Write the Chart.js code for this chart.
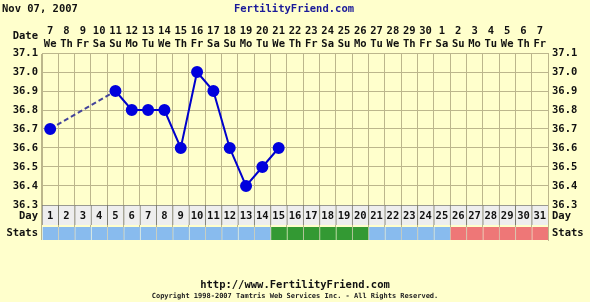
<!DOCTYPE html>
<html>
<head>
<meta charset="utf-8">
<script src="https://cdn.jsdelivr.net/npm/chart.js@4"></script>
<style>
html, body { margin: 0; padding: 0; background: #ffffcc; }
#wrap { position: relative; width: 590px; height: 302px; font-family: "DejaVu Sans Mono", monospace; font-weight: bold; }
#chart { position: absolute; left: 0; top: 0; }
.t { position: absolute; white-space: nowrap; }
</style>
</head>
<body>
<div id="wrap">
  <canvas id="chart" width="590" height="302"></canvas>
  <div class="t" style="left:2px;top:2px;font-size:10.5px;color:#111;">Nov 07, 2007</div>
  <div class="t" style="left:0;width:588px;text-align:center;top:2px;font-size:10.5px;color:#1a1a99;">FertilityFriend.com</div>
  <div class="t" style="left:0;width:590px;text-align:center;top:278px;font-size:10.5px;color:#111;">http://www.FertilityFriend.com</div>
  <div class="t" style="left:0;width:590px;text-align:center;top:292px;font-size:7px;color:#222;">Copyright 1998-2007 Tamtris Web Services Inc. - All Rights Reserved.</div>
</div>
<script>
// donnees du cycle
const dates = ['7','8','9','10','11','12','13','14','15','16','17','18','19','20','21','22','23','24','25','26','27','28','29','30','1','2','3','4','5','6','7'];
const weekdays = ['We','Th','Fr','Sa','Su','Mo','Tu','We','Th','Fr','Sa','Su','Mo','Tu','We','Th','Fr','Sa','Su','Mo','Tu','We','Th','Fr','Sa','Su','Mo','Tu','We','Th','Fr'];
const cycleDays = ['1','2','3','4','5','6','7','8','9','10','11','12','13','14','15','16','17','18','19','20','21','22','23','24','25','26','27','28','29','30','31'];
const temps = [36.7, null, null, null, 36.9, 36.8, 36.8, 36.8, 36.6, 37.0, 36.9, 36.6, 36.4, 36.5, 36.6,
               null, null, null, null, null, null, null, null, null, null, null, null, null, null, null, null];
const stats = ['b','b','b','b','b','b','b','b','b','b','b','b','b','b','g','g','g','g','g','g','b','b','b','b','b','p','p','p','p','p','p'];
const tempTicks = [37.1, 37.0, 36.9, 36.8, 36.7, 36.6, 36.5, 36.4, 36.3];

const statColors = { b: '#88bbee', g: '#339933', p: '#ee7777' };
const gridColor = '#bcb68c';
const txtColor = '#111';
const font = { family: 'DejaVu Sans Mono', size: 10.5, weight: 'bold', lineHeight: 1.25 };

// un trou dans les donnees -> trait en pointilles
const isGap = c => temps[c.p0DataIndex] === null;

// textes autour de la zone (Date, Day, Stats, numeros de jour)
const rowLabels = {
  id: 'rowLabels',
  afterDraw(chart) {
    const ctx = chart.ctx;
    const x = chart.scales.x;
    const yDay = chart.scales.yDay;
    const yStats = chart.scales.yStats;
    const area = chart.chartArea;
    ctx.save();
    ctx.font = 'bold 10.5px "DejaVu Sans Mono"';
    ctx.fillStyle = txtColor;
    ctx.textBaseline = 'middle';
    const dayY = (yDay.top + yDay.bottom) / 2 + 1;
    const statY = yStats.getPixelForValue(6.5);
    ctx.textAlign = 'center';
    cycleDays.forEach((d, i) => ctx.fillText(d, x.getPixelForValue(i), dayY));
    ctx.textAlign = 'right';
    ctx.fillText('Date', 38, 36);
    ctx.fillText('Day', 38, dayY);
    ctx.fillText('Stats', 38, statY);
    ctx.textAlign = 'left';
    ctx.fillText('Day', area.right + 4, dayY);
    ctx.fillText('Stats', area.right + 4, statY);
    ctx.restore();
  }
};

new Chart(document.getElementById('chart'), {
  type: 'line',
  data: {
    labels: dates.map((d, i) => [d, weekdays[i]]),
    datasets: [
      {
        type: 'line',
        data: temps,
        yAxisID: 'y',
        order: 0,
        spanGaps: true,
        borderColor: '#0000cc',
        borderWidth: 2,
        pointRadius: 5,
        pointBackgroundColor: '#0000dd',
        pointBorderColor: '#0000dd',
        segment: {
          borderDash: c => (isGap(c) ? [5, 3] : undefined),
          borderColor: c => (isGap(c) ? '#44449a' : undefined)
        }
      },
      {
        type: 'bar',
        data: cycleDays.map(() => 1),
        yAxisID: 'yDay',
        order: 1,
        grouped: false,
        backgroundColor: '#eeeeee',
        borderColor: '#7c7c70',
        borderWidth: { top: 1, left: 1 },
        borderSkipped: false,
        barPercentage: 1,
        categoryPercentage: 1
      },
      {
        type: 'bar',
        data: stats.map(() => 13),
        yAxisID: 'yStats',
        order: 2,
        grouped: false,
        backgroundColor: stats.map(s => statColors[s]),
        borderColor: 'rgba(255,255,255,0.35)',
        borderWidth: { left: 1 },
        borderSkipped: false,
        barPercentage: 1,
        categoryPercentage: 1
      }
    ]
  },
  options: {
    responsive: false,
    animation: false,
    layout: { padding: { top: 20, left: 0, right: 0, bottom: 62 } },
    plugins: { legend: { display: false }, tooltip: { enabled: false } },
    scales: {
      x: {
        type: 'category',
        position: 'top',
        offset: true,
        grid: { offset: true, color: gridColor, drawTicks: false },
        border: { color: gridColor },
        ticks: { font: font, color: txtColor, padding: 2, maxRotation: 0, autoSkip: false },
        afterFit(a) { a.height = 33; }
      },
      // les axes empiles a gauche sont places en ordre inverse
      yStats: {
        position: 'left',
        stack: 'rows',
        stackWeight: 15,
        min: 0,
        max: 15,
        ticks: { display: false },
        grid: { display: false, drawTicks: false },
        border: { display: false },
        afterFit(a) { a.width = 42; }
      },
      yDay: {
        position: 'left',
        stack: 'rows',
        stackWeight: 20,
        min: 0,
        max: 1,
        ticks: { display: false },
        grid: { display: false, drawTicks: false },
        border: { display: false },
        afterFit(a) { a.width = 42; }
      },
      y: {
        position: 'left',
        stack: 'rows',
        stackWeight: 152,
        min: 36.3,
        max: 37.1,
        afterBuildTicks(a) { a.ticks = tempTicks.map(v => ({ value: v })); },
        ticks: { font: font, color: txtColor, padding: 4, autoSkip: false, callback: v => Number(v).toFixed(1) },
        grid: { color: gridColor, drawTicks: false },
        border: { color: gridColor },
        afterFit(a) { a.width = 42; }
      },
      yR: {
        position: 'right',
        min: 36.3 - 35 * 0.1 / 19,
        max: 37.1,
        afterBuildTicks(a) { a.ticks = tempTicks.map(v => ({ value: v })); },
        ticks: { font: font, color: txtColor, padding: 4, autoSkip: false, callback: v => Number(v).toFixed(1) },
        grid: { display: false, drawTicks: false },
        border: { color: gridColor },
        afterFit(a) { a.width = 42; }
      }
    }
  },
  plugins: [rowLabels]
});
</script>
</body>
</html>
